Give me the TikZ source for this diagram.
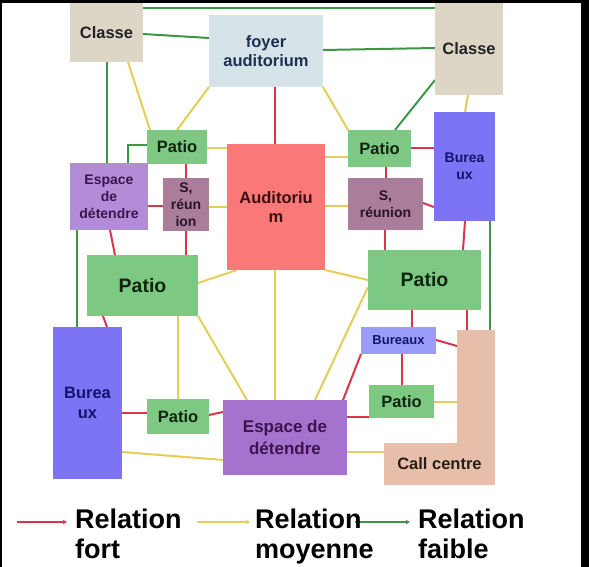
\documentclass[tikz,border=0pt]{standalone}
\usepackage{fontspec}
\setmainfont{Liberation Sans}
\usetikzlibrary{arrows.meta,calc}
\pgfdeclarelayer{back}
\pgfdeclarelayer{lines}
\pgfsetlayers{back,lines,main}
\definecolor{cClasse}{HTML}{DDD6C6}
\definecolor{cFoyer}{HTML}{D6E4EA}
\definecolor{cPatio}{HTML}{7DC882}
\definecolor{cEspA}{HTML}{B28CD6}
\definecolor{cEspB}{HTML}{A573CD}
\definecolor{cReu}{HTML}{AA7D9B}
\definecolor{cAud}{HTML}{FA7878}
\definecolor{cBur}{HTML}{7D73F5}
\definecolor{cBurS}{HTML}{9B9BFA}
\definecolor{cCall}{HTML}{E6BEAA}
\definecolor{tClasse}{HTML}{222222}
\definecolor{tFoyer}{HTML}{1F2F50}
\definecolor{tPatio}{HTML}{102410}
\definecolor{tEsp}{HTML}{3C1450}
\definecolor{tReu}{HTML}{2A142A}
\definecolor{tAud}{HTML}{3C0F0F}
\definecolor{tBur}{HTML}{14146E}
\definecolor{tCall}{HTML}{2A1E14}
\definecolor{lFort}{HTML}{D7374B}
\definecolor{lMoy}{HTML}{E6CD5A}
\definecolor{lFaible}{HTML}{3C9646}
\begin{document}
\begin{tikzpicture}[x=1pt,y=-1pt,
  box/.style={rectangle, inner sep=0pt, outer sep=0pt, align=center,
    font=\bfseries\fontsize{16.5}{19.5}\selectfont},
  small/.style={font=\bfseries\fontsize{14}{17}\selectfont},
  big/.style={font=\bfseries\fontsize{19.5}{22}\selectfont},
  fort/.style={draw=lFort, line width=2pt},
  moy/.style={draw=lMoy, line width=2pt},
  faible/.style={draw=lFaible, line width=2pt},
  legarrow/.style={line width=1.4pt, -{Triangle[length=4pt,width=4pt]}},
  legtext/.style={anchor=base west, inner sep=0pt, font=\bfseries\fontsize{27}{31}\selectfont}
]
\useasboundingbox (0,0) rectangle (589,567);
\begin{pgfonlayer}{back}
\fill[black] (0,0) rectangle (589,567);
\fill[white] (2,3) rectangle (581,567);
\end{pgfonlayer}

\path
 node[box, fill=cClasse, text=tClasse, minimum width=73pt, minimum height=59pt] (classeL) at (106.5,32.5) {Classe}
 node[box, fill=cFoyer, text=tFoyer, minimum width=114pt, minimum height=72pt] (foyer) at (266,51) {foyer\\auditorium}
 node[box, fill=cClasse, text=tClasse, minimum width=68pt, minimum height=92pt] (classeR) at (469,49) {Classe}
 node[box, fill=cPatio, text=tPatio, minimum width=60pt, minimum height=34pt] (patioTL) at (177,147) {Patio}
 node[box, small, fill=cEspA, text=tEsp, minimum width=78pt, minimum height=67pt] (espTL) at (109,196.5) {Espace\\de\\détendre}
 node[box, small, fill=cReu, text=tReu, minimum width=46pt, minimum height=53pt] (reuL) at (186,204.5) {S,\\réun\\ion}
 node[box, fill=cAud, text=tAud, minimum width=98pt, minimum height=126pt] (aud) at (276,207) {Auditoriu\\m}
 node[box, fill=cPatio, text=tPatio, minimum width=63pt, minimum height=37pt] (patioTR) at (379.5,148.5) {Patio}
 node[box, small, fill=cReu, text=tReu, minimum width=75pt, minimum height=52pt] (reuR) at (385.5,204) {S,\\réunion}
 node[box, small, fill=cBur, text=tBur, minimum width=61pt, minimum height=109pt] (burTR) at (464.5,166.5) {Burea\\ux}
 node[box, big, fill=cPatio, text=tPatio, minimum width=111pt, minimum height=61pt] (patioL) at (142.5,285.5) {Patio}
 node[box, big, fill=cPatio, text=tPatio, minimum width=113pt, minimum height=60pt] (patioR) at (424.5,280) {Patio}
 node[box, fill=cBur, text=tBur, minimum width=69pt, minimum height=152pt] (burL) at (87.5,403) {Burea\\ux}
 node[box, fill=cPatio, text=tPatio, minimum width=62pt, minimum height=35pt] (patioBL) at (178,416.5) {Patio}
 node[box, font=\bfseries\fontsize{17}{22}\selectfont, fill=cEspB, text=tEsp, minimum width=124pt, minimum height=75pt] (espB) at (285,437.5) {Espace de\\détendre}
 node[box, font=\bfseries\fontsize{13}{16}\selectfont, fill=cBurS, text=tBur, minimum width=75pt, minimum height=27pt] (burS) at (398.5,340.5) {Bureaux}
 node[box, fill=cPatio, text=tPatio, minimum width=65pt, minimum height=33pt] (patioS) at (401.5,401.5) {Patio}
 node[box, fill=cCall, minimum width=38pt, minimum height=155pt] (callV) at (476,407.5) {}
 node[box, fill=cCall, text=tCall, minimum width=111pt, minimum height=42pt] (callH) at (439.5,464) {Call centre};

\begin{pgfonlayer}{lines}
% faible
\draw[faible] (classeL.east |- 0,8) -- (classeR.west |- 0,8);
\draw[faible] (classeL.east |- 0,34) -- (foyer.west |- 0,38);
\draw[faible] (foyer.east |- 0,50) -- (classeR.west |- 0,48);
\draw[faible] (classeR.west |- 0,80) -- (patioTR.north -| 395,0);
\draw[faible] (classeL.south -| 107,0) -- (espTL.north -| 107,0);
\draw[faible] (patioTL.west |- 0,145) -| (espTL.north -| 128,0);
\draw[faible] (espTL.south -| 77,0) -- (burL.north -| 77,0);
\draw[faible] (burTR.south -| 490,0) -- (callV.north -| 490,0);
% moyenne
\draw[moy] (classeL.south -| 128,0) -- (patioTL.north -| 150,0);
\draw[moy] (foyer.south west) -- (patioTL.north -| 177,0);
\draw[moy] (foyer.south east) -- (patioTR.north west);
\draw[moy] (patioTL.east |- 0,148) -- (aud.west |- 0,148);
\draw[moy] (reuL.east |- 0,207) -- (aud.west |- 0,207);
\draw[moy] (aud.east |- 0,157) -- (patioTR.west |- 0,157);
\draw[moy] (aud.east |- 0,206) -- (reuR.west |- 0,206);
\draw[moy] (classeR.south -| 468,0) -- (burTR.north -| 465,0);
\draw[moy] (patioL.east |- 0,283) -- (aud.south -| 237,0);
\draw[moy] (aud.south east) -- (patioR.west |- 0,280);
\draw[moy] (aud.south -| 275,0) -- (espB.north -| 275,0);
\draw[moy] (patioL.south -| 178,0) -- (patioBL.north -| 178,0);
\draw[moy] (patioL.south east) -- (espB.north -| 247,0);
\draw[moy] (patioR.west |- 0,287) -- (espB.north -| 315,0);
\draw[moy] (burL.east |- 0,452) -- (espB.west |- 0,460);
\draw[moy] (espB.east |- 0,452) -- (callH.west |- 0,452);
\draw[moy] (patioS.east |- 0,402) -- (callV.west |- 0,402);
% fort
\draw[fort] (foyer.south -| 275,0) -- (aud.north -| 275,0);
\draw[fort] (patioTL.south -| 186,0) -- (reuL.north -| 186,0);
\draw[fort] (espTL.east |- 0,206) -- (reuL.west |- 0,206);
\draw[fort] (reuL.south -| 186,0) -- (patioL.north -| 186,0);
\draw[fort] (espTL.south -| 110,0) -- (patioL.north -| 115,0);
\draw[fort] (patioL.south -| 103,0) -- (burL.north -| 107,0);
\draw[fort] (burL.east |- 0,413) -- (patioBL.west |- 0,413);
\draw[fort] (patioBL.east |- 0,415) -- (espB.west |- 0,412);
\draw[fort] (patioTR.east |- 0,148) -- (burTR.west |- 0,148);
\draw[fort] (patioTR.south -| 386,0) -- (reuR.north -| 386,0);
\draw[fort] (reuR.east |- 0,203) -- (burTR.west |- 0,207);
\draw[fort] (reuR.south -| 385,0) -- (patioR.north -| 385,0);
\draw[fort] (burTR.south -| 465,0) -- (patioR.north -| 463,0);
\draw[fort] (patioR.south -| 412,0) -- (burS.north -| 412,0);
\draw[fort] (patioR.south -| 467,0) -- (callV.north -| 467,0);
\draw[fort] (burS.east |- 0,340) -- (callV.west |- 0,346);
\draw[fort] (burS.south -| 402,0) -- (patioS.north -| 402,0);
\draw[fort] (burS.south west) -- (espB.north -| 343,0);
\draw[fort] (espB.east |- 0,417) -- (patioS.west |- 0,417);
\end{pgfonlayer}

% legend
\coordinate (lr1) at (17,522); \coordinate (lr2) at (67,522);
\coordinate (ly1) at (197,522); \coordinate (ly2) at (250,522);
\coordinate (lg1) at (355,522); \coordinate (lg2) at (410,522);
\draw[legarrow, draw=lFort, fill=lFort] (lr1) -- (lr2);
\draw[legarrow, draw=lMoy, fill=lMoy] (ly1) -- (ly2);
\draw[legarrow, draw=lFaible, fill=lFaible] (lg1) -- (lg2);
\node[legtext] (t1a) at (75,528) {Relation};
\node[legtext] (t1b) at (75,558) {fort};
\node[legtext] (t2a) at (255,528) {Relation};
\node[legtext] (t2b) at (255,558) {moyenne};
\node[legtext] (t3a) at (418,528) {Relation};
\node[legtext] (t3b) at (418,558) {faible};
\end{tikzpicture}
\end{document}
